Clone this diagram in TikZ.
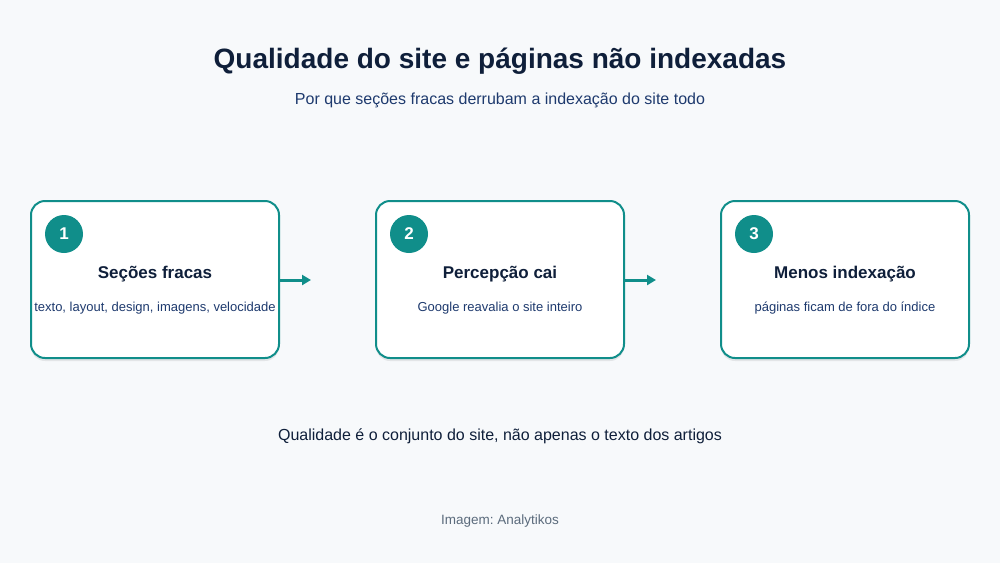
\documentclass[tikz,border=0pt]{standalone}
\usepackage{fontspec}
\setmainfont{Liberation Sans}
\frenchspacing
\usetikzlibrary{arrows.meta,shadows}
\definecolor{bg}{HTML}{F7F9FB}
\definecolor{navy}{HTML}{0F1F3A}
\definecolor{subblue}{HTML}{1E3A6E}
\definecolor{teal}{HTML}{108E8A}
\definecolor{graytxt}{HTML}{5B6B7C}
\tikzset{
  card/.style={draw=teal, line width=2pt, fill=white, rounded corners=14pt,
    minimum width=248pt, minimum height=157pt, inner sep=0pt,
    drop shadow={shadow xshift=0pt, shadow yshift=-3pt, opacity=0.08, fill=black}},
  badge/.style={circle, fill=teal, minimum size=38pt, inner sep=0pt,
    text=white, font=\fontsize{17}{20}\selectfont\bfseries},
  cardtitle/.style={text=navy, font=\fontsize{17}{20}\selectfont\bfseries},
  carddesc/.style={text=subblue, font=\fontsize{13}{15}\selectfont},
  flow/.style={draw=teal, line width=3pt, -{Triangle[length=9pt,width=10pt]}},
}
\begin{document}
\begin{tikzpicture}[x=1pt,y=-1pt]
\fill[bg] (0,0) rectangle (1000,563);
\useasboundingbox (0,0) rectangle (1000,563);

\node[text=navy, font=\fontsize{28}{32}\selectfont\bfseries] (title) at (500,61) {Qualidade do site e páginas não indexadas};
\node[text=subblue, font=\fontsize{16}{19}\selectfont] (subtitle) at (500,100) {Por que seções fracas derrubam a indexação do site todo};

\node[card] (c1) at (155,279.5) {};
\node[card] (c2) at (500,279.5) {};
\node[card] (c3) at (845,279.5) {};

\node[badge] (n1) at (64,234) {1};
\node[badge] (n2) at (409,234) {2};
\node[badge] (n3) at (754,234) {3};

\node[cardtitle] (t1) at (155,274) {Seções fracas};
\node[cardtitle] (t2) at (500,274) {Percepção cai};
\node[cardtitle] (t3) at (845,274) {Menos indexação};

\node[carddesc] (d1) at (155,308) {texto, layout, design, imagens, velocidade};
\node[carddesc] (d2) at (500,308) {Google reavalia o site inteiro};
\node[carddesc] (d3) at (845,308) {páginas ficam de fora do índice};

\coordinate (e1) at (311,280);
\coordinate (e2) at (656,280);
\draw[flow] (c1.east |- e1) -- (e1);
\draw[flow] (c2.east |- e2) -- (e2);

\node[text=navy, font=\fontsize{16}{19}\selectfont] (note) at (500,436) {Qualidade é o conjunto do site, não apenas o texto dos artigos};
\node[text=graytxt, font=\fontsize{13.5}{16}\selectfont] (credit) at (500,521) {Imagem: Analytikos};
\end{tikzpicture}
\end{document}
